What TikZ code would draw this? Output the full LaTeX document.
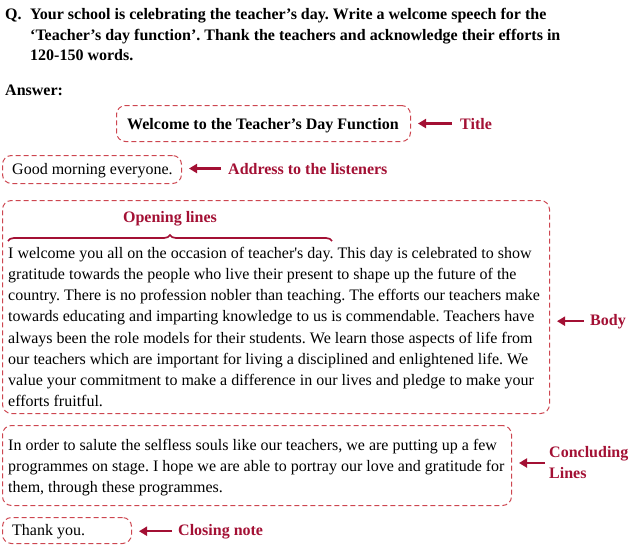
\documentclass[tikz,border=0pt]{standalone}
\usepackage{fontspec}
\setmainfont{Liberation Serif}
\usetikzlibrary{arrows.meta,decorations.pathreplacing}
\definecolor{labred}{RGB}{163,16,52}
\definecolor{boxred}{RGB}{205,70,80}
\frenchspacing
\begin{document}
\begin{tikzpicture}[x=1pt,y=-1pt,
  box/.style={draw=boxred, line width=1pt, dash pattern=on 5pt off 3pt, rounded corners=9pt, anchor=north west, inner sep=0pt},
  txt/.style={anchor=base west, inner sep=0pt, font=\fontsize{16}{20}\selectfont},
  hdr/.style={anchor=base west, inner sep=0pt, font=\fontsize{16}{20}\selectfont\bfseries},
  lbl/.style={anchor=base west, inner sep=0pt, text=labred, font=\fontsize{16}{21}\selectfont\bfseries},
  arr/.style={draw=labred, line width=2.5pt, -{Triangle[length=8pt,width=9pt]}},
]
\useasboundingbox (0,0) rectangle (631,544);
% header
\node[hdr] (q) at (5,19) {Q.};
\node[hdr] (q1) at (30,19) {Your school is celebrating the teacher’s day. Write a welcome speech for the};
\node[hdr] (q2) at (30,40) {‘Teacher’s day function’. Thank the teachers and acknowledge their efforts in};
\node[hdr] (q3) at (30,60) {120-150 words.};
\node[hdr] (ans) at (5,95) {Answer:};
% title
\node[box, minimum width=294pt, minimum height=36pt] (tbox) at (116,105) {};
\node[hdr, anchor=base] (ttext) at (263,129) {Welcome to the Teacher’s Day Function};
\node[lbl] (tlbl) at (460,129) {Title};
\draw[arr, shorten <=8pt, shorten >=7pt] (tlbl.west) -- (tlbl.west -| tbox.east);
% greeting
\node[box, minimum width=179pt, minimum height=28pt] (gbox) at (2,155) {};
\node[txt] (gtext) at (12,174) {Good morning everyone.};
\node[lbl] (glbl) at (228,174) {Address to the listeners};
\draw[arr, shorten <=7pt, shorten >=7pt] (glbl.west) -- (glbl.west -| gbox.east);
% body
\node[box, minimum width=547pt, minimum height=213pt] (bbox) at (2,200) {};
\node[lbl, anchor=base] (olbl) at (170,222) {Opening lines};
\draw[labred, line width=1.7pt, decorate, decoration={brace, amplitude=6pt}] (8,241) -- (332,241);
\node[txt] (b1) at (8,258) {I welcome you all on the occasion of teacher\textquotesingle s day. This day is celebrated to show};
\node[txt] (b2) at (8,279) {gratitude towards the people who live their present to shape up the future of the};
\node[txt] (b3) at (8,300) {country. There is no profession nobler than teaching. The efforts our teachers make};
\node[txt] (b4) at (8,321) {towards educating and imparting knowledge to us is commendable. Teachers have};
\node[txt] (b5) at (8,343) {always been the role models for their students. We learn those aspects of life from};
\node[txt] (b6) at (8,364) {our teachers which are important for living a disciplined and enlightened life. We};
\node[txt] (b7) at (8,385) {value your commitment to make a difference in our lives and pledge to make your};
\node[txt] (b8) at (8,406) {efforts fruitful.};
\node[lbl] (blbl) at (590,325) {Body};
\draw[arr, shorten <=6pt, shorten >=7pt] (blbl.west) -- (blbl.west -| bbox.east);
% concluding
\node[box, minimum width=509pt, minimum height=80pt] (cbox) at (2,425) {};
\node[txt] (c1) at (8,450) {In order to salute the selfless souls like our teachers, we are putting up a few};
\node[txt] (c2) at (8,471) {programmes on stage. I hope we are able to portray our love and gratitude for};
\node[txt] (c3) at (8,492) {them, through these programmes.};
\node[lbl, anchor=west, align=left] (clbl) at (549,463) {Concluding\\Lines};
\draw[arr, shorten <=4pt, shorten >=7pt] (clbl.west) -- (clbl.west -| cbox.east);
% closing
\node[box, minimum width=129pt, minimum height=26pt] (kbox) at (2,517) {};
\node[txt] (ktext) at (12,535) {Thank you.};
\node[lbl] (klbl) at (178,535) {Closing note};
\draw[arr, shorten <=6pt, shorten >=7pt] (klbl.west) -- (klbl.west -| kbox.east);
\end{tikzpicture}
\end{document}
